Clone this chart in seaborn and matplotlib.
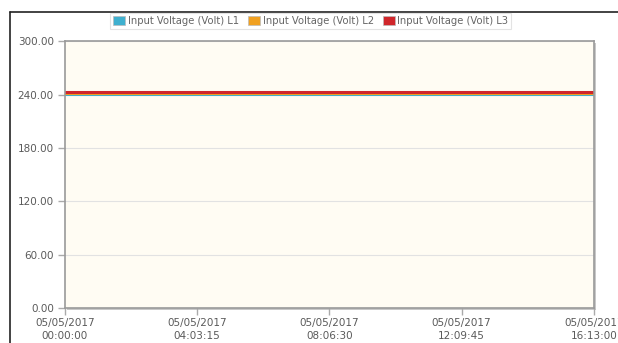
import matplotlib
matplotlib.use("Agg")
import matplotlib.pyplot as plt
import matplotlib.dates as mdates
from matplotlib.lines import Line2D
from matplotlib.patches import Patch, Rectangle
import pandas as pd
import seaborn as sns

# Sample timestamps over the logging window
times = ["2017-05-05 00:00:00", "2017-05-05 04:03:15", "2017-05-05 08:06:30",
         "2017-05-05 12:09:45", "2017-05-05 16:13:00"]
l1_volts = [241.0, 241.0, 241.0, 241.0, 241.0]
l2_volts = [241.6, 241.6, 241.6, 241.6, 241.6]
l3_volts = [242.4, 242.4, 242.4, 242.4, 242.4]
series_names = ["Input Voltage (Volt) L1", "Input Voltage (Volt) L2", "Input Voltage (Volt) L3"]
y_ticks = [0, 60, 120, 180, 240, 300]
x_ticks = times

colors = ["#3FB0CF", "#F0A020", "#D0262B"]

rows = []
for name, vals in zip(series_names, [l1_volts, l2_volts, l3_volts]):
    for t, v in zip(times, vals):
        rows.append({"time": pd.Timestamp(t), "volts": v, "series": name})
df = pd.DataFrame(rows)

sns.set_theme(style="white")
plt.rcParams["font.family"] = ["DejaVu Sans"]

fig = plt.figure(figsize=(6.18, 3.43), dpi=100)
ax = fig.add_axes([0.105, 0.102, 0.856, 0.778])

# drop shadow behind the plot frame
shadow = Rectangle((0.105 + 2 / 618, 0.102 - 2 / 343), 0.856, 0.778,
                   transform=fig.transFigure, facecolor="#C8C8C8",
                   edgecolor="none", zorder=0)
fig.add_artist(shadow)
ax.set_zorder(1)
ax.set_facecolor("#FFFCF3")

sns.lineplot(data=df, x="time", y="volts", hue="series", palette=colors,
             linewidth=2.2, legend=False, ax=ax, estimator=None)

ax.set_ylim(0, 300)
ax.set_yticks(y_ticks)
ax.set_yticklabels([f"{v:.2f}" for v in y_ticks])
ax.set_xlim(pd.Timestamp(times[0]), pd.Timestamp(times[-1]))
ax.set_xticks([pd.Timestamp(t) for t in x_ticks])
ax.xaxis.set_major_formatter(mdates.DateFormatter("%m/%d/%Y\n%H:%M:%S"))
ax.set_xlabel("")
ax.set_ylabel("")

ax.yaxis.grid(True, color="#E2E2E2", linewidth=0.8)
ax.xaxis.grid(False)
ax.tick_params(axis="both", which="major", labelsize=7.5, labelcolor="#5A5A5A",
               color="#AAAAAA", length=5, width=1, direction="out",
               left=True, bottom=True, pad=2)
ax.tick_params(axis="y", pad=3)
for side in ["left", "bottom", "right", "top"]:
    ax.spines[side].set_color("#9A9A9A")
    ax.spines[side].set_linewidth(1.2)
for lbl in ax.get_xticklabels():
    lbl.set_horizontalalignment("center")
    lbl.set_linespacing(1.4)

# outer frame lines of the panel
fig.add_artist(Line2D([10 / 618, 10 / 618], [0, 1 - 12 / 343],
                      transform=fig.transFigure, color="#222222", linewidth=1.2))
fig.add_artist(Line2D([10 / 618, 1], [1 - 12 / 343, 1 - 12 / 343],
                      transform=fig.transFigure, color="#222222", linewidth=1.2))

handles = [Patch(facecolor=c, edgecolor="#BBBBBB", linewidth=0.5) for c in colors]
leg = fig.legend(handles, series_names, loc="upper center", ncol=3,
                 bbox_to_anchor=(0.503, 1 - 13 / 343), frameon=True,
                 fontsize=7.2, handlelength=1.2, handleheight=1.0,
                 handletextpad=0.25, columnspacing=0.9, borderpad=0.3,
                 borderaxespad=0, fancybox=False)
leg.get_frame().set_edgecolor("#DDDDDD")
leg.get_frame().set_linewidth(0.8)
for txt in leg.get_texts():
    txt.set_color("#666666")

fig.savefig("out.png", dpi=100)
